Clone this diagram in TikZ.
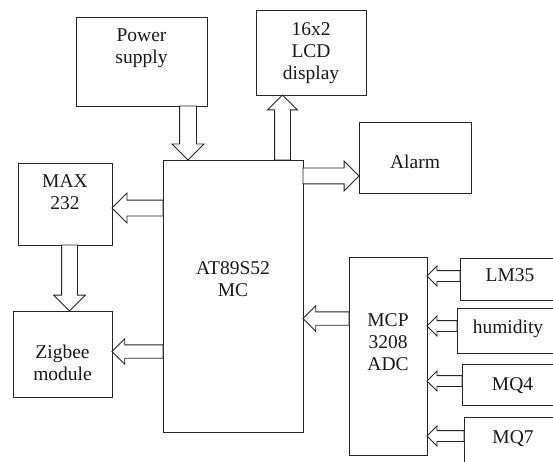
\documentclass[tikz,border=0pt]{standalone}
\usepackage{fontspec}
\setmainfont{Liberation Serif}
\usetikzlibrary{shapes.arrows, calc}

% hollow block arrow from one anchor to another
\newcommand{\fatarrow}[4][bigfat]{%
  \path let \p1=(#3), \p2=(#4), \n1={veclen(\x2-\x1,\y2-\y1)}, \n2={atan2(\y2-\y1,\x2-\x1)} in
    node[#1, minimum height=\n1, rotate=\n2, anchor=tail] (#2) at (\p1) {};}

\begin{document}
\begin{tikzpicture}[x=1pt, y=-1pt, line width=0.9pt,
  box/.style={draw=black!85, inner sep=0pt, outer sep=0pt, anchor=north west},
  txt/.style={align=center, inner sep=0pt, text=black!90, font=\rmfamily\fontsize{19.5}{22}\selectfont},
  fat/.style={single arrow, draw=black!85, fill=white, inner sep=0pt, outer sep=0pt,
              text depth=0pt, single arrow tip angle=90},
  bigfat/.style={fat, text height=15pt, single arrow head extend=7},
  midfat/.style={fat, text height=12.5pt, single arrow head extend=6},
  smallfat/.style={fat, text height=10pt, single arrow head extend=4.5}]
  \useasboundingbox (0,0) rectangle (553,462);
  \clip (0,0) rectangle (553,462);
  % blocks
  \node[box, minimum width=131, minimum height=89, label={[txt, yshift=13pt]center:Power\\supply}] (ps) at (76,17) {};
  \node[box, minimum width=110, minimum height=85, label={[txt, yshift=-1pt]center:16x2\\LCD\\display}] (lcd) at (256,10) {};
  \node[box, minimum width=112, minimum height=71, label={[txt, yshift=-4pt]center:Alarm}] (alarm) at (359,122) {};
  \node[box, minimum width=94, minimum height=82, label={[txt, yshift=11.5pt]center:MAX\\232}] (max) at (18,163) {};
  \node[box, minimum width=99, minimum height=86, label={[txt, yshift=-8.5pt]center:Zigbee\\module}] (zig) at (13,311) {};
  \node[box, minimum width=140, minimum height=272, label={[txt, yshift=16.5pt]center:AT89S52\\MC}] (mc) at (163,160) {};
  \node[box, minimum width=78, minimum height=198, label={[txt, yshift=13.5pt]center:MCP\\3208\\ADC}] (adc) at (349,257) {};
  % sensors
  \node[box, minimum width=96, minimum height=42, label={[txt, xshift=2pt, yshift=3.5pt]center:LM35}] (lm) at (460,258) {};
  \node[box, minimum width=99, minimum height=45, label={[txt, xshift=1.5pt, yshift=2pt]center:humidity}] (hum) at (457,308) {};
  \node[box, minimum width=94, minimum height=41, label={[txt, xshift=3.5pt, yshift=-1.5pt]center:MQ4}] (mq4) at (462,364) {};
  \node[box, minimum width=92, minimum height=53, label={[txt, xshift=3pt, yshift=5pt]center:MQ7}] (mq7) at (464,417) {};
  % block arrows
  \fatarrow[fat, text height=16pt, single arrow head extend=7.5]{a1}{ps.south -| 188,0}{mc.north -| 188,0}
  \fatarrow{a2}{mc.north -| 282.5,0}{lcd.south -| 282.5,0}
  \fatarrow{a3}{mc.east |- 0,176}{alarm.west |- 0,176}
  \fatarrow{a4}{mc.west |- 0,208}{max.east |- 0,208}
  \fatarrow[fat, text height=15pt, single arrow head extend=8]{a5}{max.south -| 69.5,0}{zig.north -| 69.5,0}
  \fatarrow[midfat]{a6}{mc.west |- 0,351.5}{zig.east |- 0,351.5}
  \fatarrow[midfat]{a7}{adc.west |- 0,318.5}{mc.east |- 0,318.5}
  \fatarrow[smallfat]{s1}{lm.west |- 0,276}{adc.east |- 0,276}
  \fatarrow[smallfat]{s2}{hum.west |- 0,326}{adc.east |- 0,326}
  \fatarrow[smallfat]{s3}{mq4.west |- 0,381}{adc.east |- 0,381}
  \fatarrow[smallfat]{s4}{mq7.west |- 0,436}{adc.east |- 0,436}
\end{tikzpicture}
\end{document}
